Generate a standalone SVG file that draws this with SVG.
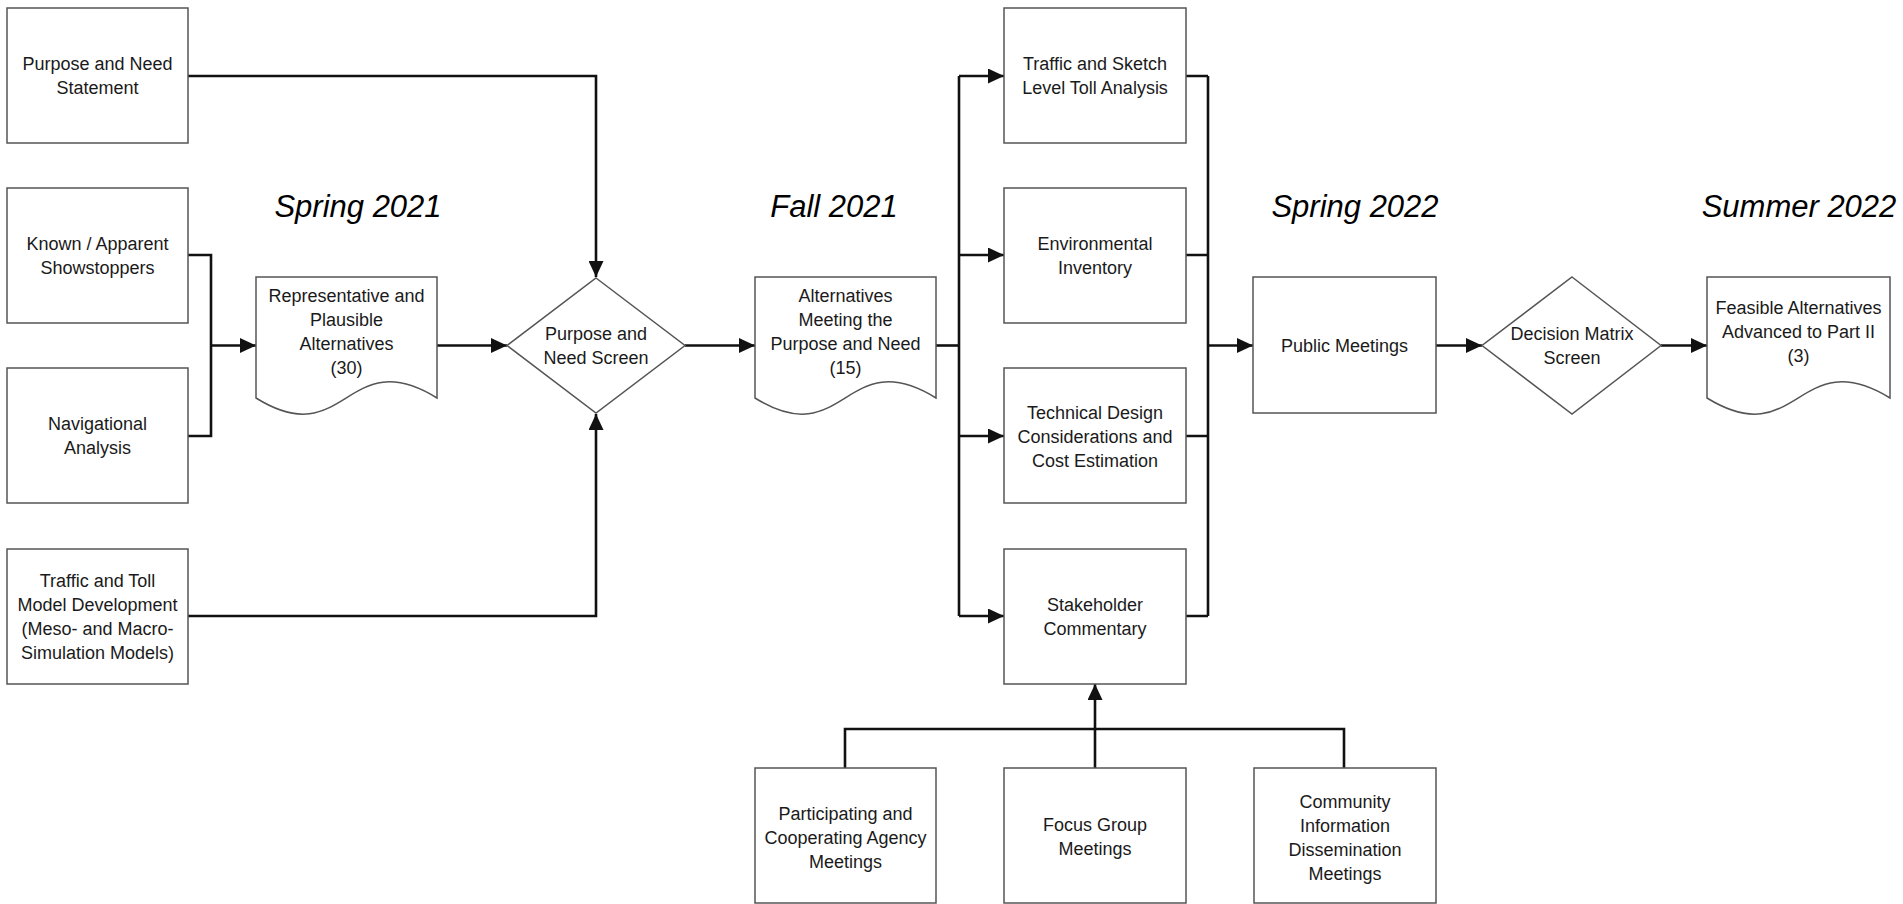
<svg xmlns="http://www.w3.org/2000/svg" width="1903" height="904" viewBox="0 0 1903 904">
<defs>
<marker id="ah" markerUnits="userSpaceOnUse" markerWidth="17" markerHeight="15" refX="16" refY="7.5" orient="auto">
<path d="M0,0 L16,7.5 L0,15 Z" fill="#111"/>
</marker>
<style>
.box{fill:#fff;stroke:#555;stroke-width:1.5}
.t{font-family:"Liberation Sans",Arial,sans-serif;font-size:18px;fill:#1a1a1a;text-anchor:middle}
.season{font-family:"Liberation Sans",Arial,sans-serif;font-size:31px;font-style:italic;fill:#000;text-anchor:middle}
.c{fill:none;stroke:#111;stroke-width:2.6}
.ca{fill:none;stroke:#111;stroke-width:2.6;marker-end:url(#ah)}
</style>
</defs>
<rect width="1903" height="904" fill="#fff"/>

<g id="seasons">
<text class="season" x="358" y="217">Spring 2021</text>
<text class="season" x="834" y="217">Fall 2021</text>
<text class="season" x="1355" y="217">Spring 2022</text>
<text class="season" x="1799" y="217">Summer 2022</text>
</g>

<g id="connectors">
<path class="ca" d="M188,76 H596 V277"/>
<path class="c" d="M188,255 H211 V436 H188"/>
<path class="ca" d="M211,345.5 H256"/>
<path class="ca" d="M188,616 H596 V414"/>
<path class="ca" d="M437,345.5 H507"/>
<path class="ca" d="M685,345.5 H755"/>
<path class="c" d="M936,345.5 H959"/>
<path class="c" d="M959,76 V616"/>
<path class="ca" d="M959,76 H1004"/>
<path class="ca" d="M959,255 H1004"/>
<path class="ca" d="M959,436 H1004"/>
<path class="ca" d="M959,616 H1004"/>
<path class="c" d="M1186,76 H1208 M1186,255 H1208 M1186,436 H1208 M1186,616 H1208 M1208,76 V616"/>
<path class="ca" d="M1208,345.5 H1253"/>
<path class="ca" d="M1436,345.5 H1482"/>
<path class="ca" d="M1661,345.5 H1707"/>
<path class="c" d="M845,768 V729 H1344 V768"/>
<path class="ca" d="M1095,768 V684"/>
</g>

<g id="n1"><rect class="box" x="7" y="8" width="181" height="135"/>
<text class="t"><tspan x="97.5" y="70">Purpose and Need</tspan><tspan x="97.5" y="94">Statement</tspan></text></g>

<g id="n2"><rect class="box" x="7" y="188" width="181" height="135"/>
<text class="t"><tspan x="97.5" y="249.5">Known / Apparent</tspan><tspan x="97.5" y="273.5">Showstoppers</tspan></text></g>

<g id="n3"><rect class="box" x="7" y="368" width="181" height="135"/>
<text class="t"><tspan x="97.5" y="430">Navigational</tspan><tspan x="97.5" y="454">Analysis</tspan></text></g>

<g id="n4"><rect class="box" x="7" y="549" width="181" height="135"/>
<text class="t"><tspan x="97.5" y="586.5">Traffic and Toll</tspan><tspan x="97.5" y="610.5">Model Development</tspan><tspan x="97.5" y="634.5">(Meso- and Macro-</tspan><tspan x="97.5" y="658.5">Simulation Models)</tspan></text></g>

<g id="n5"><path class="box" d="M256,277 H437 V398 C346,342 346,454 256,398 Z"/>
<text class="t"><tspan x="346.5" y="301.5">Representative and</tspan><tspan x="346.5" y="325.5">Plausible</tspan><tspan x="346.5" y="349.5">Alternatives</tspan><tspan x="346.5" y="373.5">(30)</tspan></text></g>

<g id="n6"><path class="box" d="M596,278 L685,345.5 L596,413 L507,345.5 Z"/>
<text class="t"><tspan x="596" y="340">Purpose and</tspan><tspan x="596" y="364">Need Screen</tspan></text></g>

<g id="n7"><path class="box" d="M755,277 H936 V398 C845,342 845,454 755,398 Z"/>
<text class="t"><tspan x="845.5" y="301.5">Alternatives</tspan><tspan x="845.5" y="325.5">Meeting the</tspan><tspan x="845.5" y="349.5">Purpose and Need</tspan><tspan x="845.5" y="373.5">(15)</tspan></text></g>

<g id="n8"><rect class="box" x="1004" y="8" width="182" height="135"/>
<text class="t"><tspan x="1095" y="70">Traffic and Sketch</tspan><tspan x="1095" y="94">Level Toll Analysis</tspan></text></g>

<g id="n9"><rect class="box" x="1004" y="188" width="182" height="135"/>
<text class="t"><tspan x="1095" y="249.5">Environmental</tspan><tspan x="1095" y="273.5">Inventory</tspan></text></g>

<g id="n10"><rect class="box" x="1004" y="368" width="182" height="135"/>
<text class="t"><tspan x="1095" y="418.5">Technical Design</tspan><tspan x="1095" y="442.5">Considerations and</tspan><tspan x="1095" y="466.5">Cost Estimation</tspan></text></g>

<g id="n11"><rect class="box" x="1004" y="549" width="182" height="135"/>
<text class="t"><tspan x="1095" y="610.5">Stakeholder</tspan><tspan x="1095" y="634.5">Commentary</tspan></text></g>

<g id="n12"><rect class="box" x="1253" y="277" width="183" height="136"/>
<text class="t" x="1344.5" y="351.5">Public Meetings</text></g>

<g id="n13"><path class="box" d="M1572,277 L1661,345.5 L1572,414 L1482,345.5 Z"/>
<text class="t"><tspan x="1572" y="340">Decision Matrix</tspan><tspan x="1572" y="364">Screen</tspan></text></g>

<g id="n14"><path class="box" d="M1707,277 H1890 V398 C1798,342 1798,454 1707,398 Z"/>
<text class="t"><tspan x="1798.5" y="313.5">Feasible Alternatives</tspan><tspan x="1798.5" y="337.5">Advanced to Part II</tspan><tspan x="1798.5" y="361.5">(3)</tspan></text></g>

<g id="n15"><rect class="box" x="755" y="768" width="181" height="135"/>
<text class="t"><tspan x="845.5" y="819.5">Participating and</tspan><tspan x="845.5" y="843.5">Cooperating Agency</tspan><tspan x="845.5" y="867.5">Meetings</tspan></text></g>

<g id="n16"><rect class="box" x="1004" y="768" width="182" height="135"/>
<text class="t"><tspan x="1095" y="830.5">Focus Group</tspan><tspan x="1095" y="854.5">Meetings</tspan></text></g>

<g id="n17"><rect class="box" x="1254" y="768" width="182" height="135"/>
<text class="t"><tspan x="1345" y="807.5">Community</tspan><tspan x="1345" y="831.5">Information</tspan><tspan x="1345" y="855.5">Dissemination</tspan><tspan x="1345" y="879.5">Meetings</tspan></text></g>
</svg>
